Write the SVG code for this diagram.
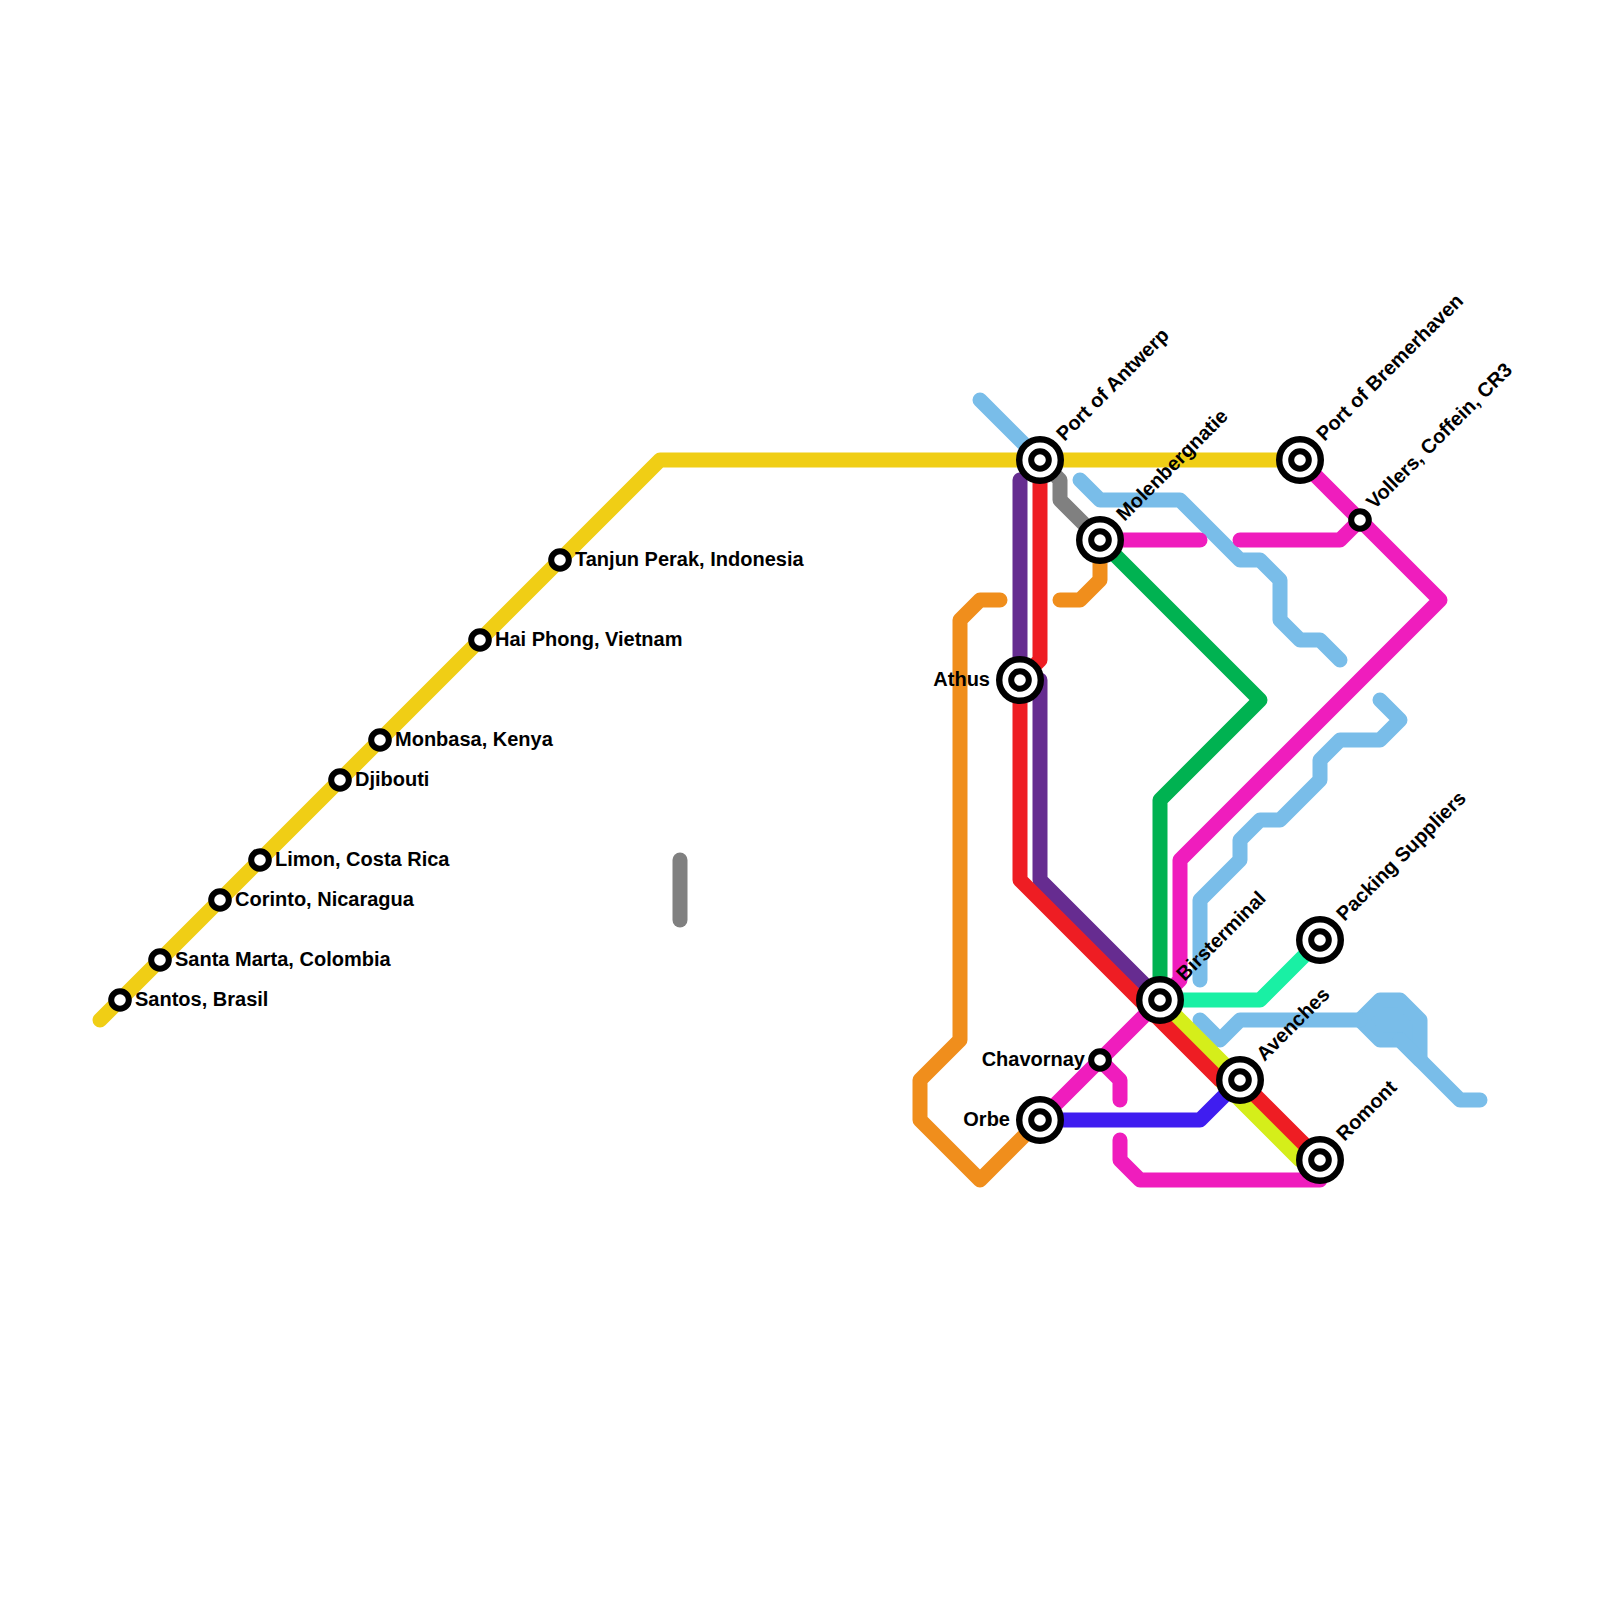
<svg xmlns="http://www.w3.org/2000/svg" width="1600" height="1600" viewBox="0 0 1600 1600">
<defs>
<style>
.l{fill:none;stroke-width:15;stroke-linecap:round;stroke-linejoin:round}
.o{fill:#fff;stroke:#000;stroke-width:6}
.b{stroke-width:6.4}
.t{font-family:"Liberation Sans",Arial,sans-serif;font-weight:700;font-size:20px;fill:#000}
.e{text-anchor:end}
</style>
<g id="ix"><circle class="o b" r="20.8"/><circle class="o" r="8.8"/></g>
<circle id="st" class="o" r="8.8"/>
</defs>
<rect width="1600" height="1600" fill="#fff"/>
<g id="connectors">
<path class="l" stroke="#79bde9" d="M980 400L1040 460"/>
<path class="l" stroke="#f0ce15" d="M100 1020L660 460H1300"/>
<path class="l" stroke="#808080" d="M1040 460L1060 480V500L1100 540"/>
<path class="l" stroke="#808080" d="M680 860V920"/>
<path class="l" stroke="#f08e1c" d="M1000 600H980L960 620V1040L920 1080V1120L980 1180L1040 1120"/>
<path class="l" stroke="#f08e1c" d="M1100 540V580L1080 600H1060"/>
<path class="l" stroke="#00b251" d="M1100 540L1260 700L1160 800V1000"/>
<path class="l" stroke="#79bde9" d="M1080 480L1100 500H1180L1240 560H1260L1280 580V620L1300 640H1320L1340 660"/>
<path class="l" stroke="#79bde9" d="M1380 700L1400 720L1380 740H1340L1320 760V780L1280 820H1260L1240 840V860L1200 900V980"/>
<path class="l" stroke="#79bde9" style="fill:#79bde9" d="M1360 1020L1380 1000H1400L1420 1020V1060L1400 1040H1380Z"/>
<path class="l" stroke="#79bde9" d="M1200 1020L1220 1040L1240 1020H1360M1400 1040L1460 1100H1480"/>
<path class="l" stroke="#ef1dbd" d="M1300 460L1440 600L1180 860V980L1160 1000L1040 1120"/>
<path class="l" stroke="#ef1dbd" d="M1100 540H1200"/>
<path class="l" stroke="#ef1dbd" d="M1240 540H1340L1360 520"/>
<path class="l" stroke="#ef1dbd" d="M1100 1060L1120 1080V1100"/>
<path class="l" stroke="#ef1dbd" d="M1120 1140V1160L1140 1180H1320V1160"/>
<path class="l" stroke="#662c90" d="M1020 480V680L1040 680V880L1160 1000"/>
<path class="l" stroke="#3f1df0" d="M1040 1120H1200L1240 1080"/>
<path class="l" stroke="#d5ee1a" d="M1160 1000L1240 1080H1220L1300 1160H1320"/>
<path class="l" stroke="#ee1d23" d="M1040 480V660L1020 680V880L1220 1080H1240L1320 1160"/>
<path class="l" stroke="#19f0a4" d="M1160 1000H1260L1320 940"/>
</g>
<g id="santos"><use href="#st" x="120" y="1000"/><text class="t" x="135" y="1005.5">Santos, Brasil</text></g>
<g id="santa-marta"><use href="#st" x="160" y="960"/><text class="t" x="175" y="965.5">Santa Marta, Colombia</text></g>
<g id="corinto"><use href="#st" x="220" y="900"/><text class="t" x="235" y="905.5">Corinto, Nicaragua</text></g>
<g id="limon"><use href="#st" x="260" y="860"/><text class="t" x="275" y="865.5">Limon, Costa Rica</text></g>
<g id="djibouti"><use href="#st" x="340" y="780"/><text class="t" x="355" y="785.5">Djibouti</text></g>
<g id="monbasa"><use href="#st" x="380" y="740"/><text class="t" x="395" y="745.5">Monbasa, Kenya</text></g>
<g id="hai-phong"><use href="#st" x="480" y="640"/><text class="t" x="495" y="645.5">Hai Phong, Vietnam</text></g>
<g id="tanjun"><use href="#st" x="560" y="560"/><text class="t" x="575" y="565.5">Tanjun Perak, Indonesia</text></g>
<g id="antwerp"><use href="#ix" x="1040" y="460"/><text class="t" transform="translate(1064.5 442) rotate(-45)">Port of Antwerp</text></g>
<g id="bremerhaven"><use href="#ix" x="1300" y="460"/><text class="t" transform="translate(1324.5 442) rotate(-45)">Port of Bremerhaven</text></g>
<g id="molenbergnatie"><use href="#ix" x="1100" y="540"/><text class="t" transform="translate(1124.5 522) rotate(-45)">Molenbergnatie</text></g>
<g id="vollers"><use href="#st" x="1360" y="520"/><text class="t" transform="translate(1374.5 510) rotate(-45)">Vollers, Coffein, CR3</text></g>
<g id="athus"><use href="#ix" x="1020" y="680"/><text class="t e" x="990" y="685.5">Athus</text></g>
<g id="birsterminal"><use href="#ix" x="1160" y="1000"/><text class="t" transform="translate(1184.5 982) rotate(-45)">Birsterminal</text></g>
<g id="packing"><use href="#ix" x="1320" y="940"/><text class="t" transform="translate(1344.5 922) rotate(-45)">Packing Suppliers</text></g>
<g id="avenches"><use href="#ix" x="1240" y="1080"/><text class="t" transform="translate(1264.5 1062) rotate(-45)">Avenches</text></g>
<g id="romont"><use href="#ix" x="1320" y="1160"/><text class="t" transform="translate(1344.5 1142) rotate(-45)">Romont</text></g>
<g id="orbe"><use href="#ix" x="1040" y="1120"/><text class="t e" x="1010" y="1125.5">Orbe</text></g>
<g id="chavornay"><use href="#st" x="1100" y="1060"/><text class="t e" x="1085" y="1065.5">Chavornay</text></g>
</svg>
